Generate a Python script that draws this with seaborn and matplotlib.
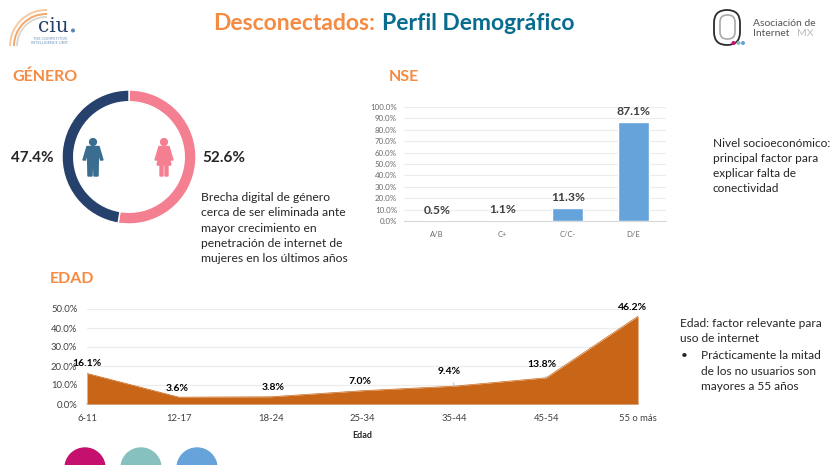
import matplotlib
matplotlib.use('Agg')
import matplotlib.pyplot as plt
from matplotlib.patches import Arc, Circle, FancyBboxPatch, Polygon
import pandas as pd
import seaborn as sns

sns.set_theme(style="white")
plt.rcParams['font.family'] = ['Lato', 'DejaVu Sans']

W, H = 833, 465

# Data
gender_labels = ['Mujeres', 'Hombres']
gender_share = [52.6, 47.4]

nse_levels = ['A/B', 'C+', 'C/C-', 'D/E']
nse_share = [0.5, 1.1, 11.3, 87.1]

age_groups = ['6-11', '12-17', '18-24', '25-34', '35-44', '45-54', '55 o más']
age_share = [16.1, 3.6, 3.8, 7.0, 9.4, 13.8, 46.2]

ORANGE = '#f58a42'
TEAL = '#086c8e'
NAVY = '#27416d'
PINK = '#f47f91'
BLUE = '#66a3da'
RUST = '#c96516'
DARK = '#262626'
GRID = '#ececec'


def px_axes(fig, left, top, right, bottom):
    # axes from slide pixel coordinates
    return fig.add_axes([left / W, 1 - bottom / H, (right - left) / W, (bottom - top) / H])


fig = plt.figure(figsize=(W / 100, H / 100), dpi=100)

# background layer in pixel coordinates, for text and logos
bg = fig.add_axes([0, 0, 1, 1])
bg.set_xlim(0, W)
bg.set_ylim(H, 0)
bg.axis('off')

# Title
bg.text(213, 24, 'Desconectados:', color=ORANGE, fontsize=16.5, fontweight='bold', va='center')
bg.text(382, 24, 'Perfil Demográfico', color=TEAL, fontsize=16.5, fontweight='bold', va='center')

# Section headers
bg.text(12, 77, 'GÉNERO', color=ORANGE, fontsize=11.5, fontweight='bold', va='center')
bg.text(389, 77, 'NSE', color=ORANGE, fontsize=11.5, fontweight='bold', va='center')
bg.text(50, 279, 'EDAD', color=ORANGE, fontsize=11.5, fontweight='bold', va='center')

# CIU logo
for d, c in [(72, '#f8c9a0'), (64, '#f4a76a'), (58, '#dcd8d2')]:
    bg.add_patch(Arc((46, 46), d, d, theta1=180, theta2=272, color=c, lw=1.4))
bg.text(38, 32, 'ciu', color=NAVY, fontsize=14.5, family='DejaVu Serif', va='baseline')
bg.add_patch(Circle((73, 30.5), 1.3, color='#5b86b5'))
bg.text(50, 41, 'THE COMPETITIVE\nINTELLIGENCE UNIT', color='#6f94bb', fontsize=2.8, ha='center', va='center')

# Asociacion de Internet logo
bg.add_patch(FancyBboxPatch((714, 10), 26, 35, boxstyle='round,pad=0,rounding_size=13', fill=False, ec='#2b2b2b', lw=1.3))
bg.add_patch(FancyBboxPatch((720, 15), 15, 24, boxstyle='round,pad=0,rounding_size=7', fill=False, ec='#a9a9a9', lw=1.2))
for x, c in [(733.5, '#c5106e'), (738.5, '#86c1bf'), (743, '#66a3da')]:
    bg.add_patch(Circle((x, 43), 1.3, color=c))
bg.text(753, 23, 'Asociación de', color='#555555', fontsize=7.5, va='center')
bg.text(753, 33.5, 'Internet', color='#555555', fontsize=7.5, va='center')
bg.text(797, 33.5, 'MX', color='#bbbbbb', fontsize=7.5, va='center')

# Person icons
bg.add_patch(Circle((93, 142), 3.4, color='#3a6d90'))
bg.add_patch(Polygon([(87, 146.5), (99, 146.5), (103, 160), (100.5, 160), (98.5, 152), (98, 176), (94, 176),
                      (93.5, 162), (92.5, 162), (92, 176), (88, 176), (87.5, 152), (85.5, 160), (83, 160)],
                     color='#3a6d90'))
bg.add_patch(Circle((164, 142), 3.4, color=PINK))
bg.add_patch(Polygon([(159, 146.5), (169, 146.5), (173, 160), (170.5, 160), (168, 153), (171, 165), (168, 165),
                      (168, 176), (165, 176), (165, 165), (163, 165), (163, 176), (160, 176), (160, 165),
                      (157, 165), (160, 153), (157.5, 160), (155, 160)], color=PINK))

# Gender numbers and notes
bg.text(11, 158, '47.4%', color=DARK, fontsize=11, fontweight='bold', va='center')
bg.text(202, 158, '52.6%', color=DARK, fontsize=11, fontweight='bold', va='center')
bg.text(201, 228, 'Brecha digital de género\ncerca de ser eliminada ante\nmayor crecimiento en\n'
        'penetración de internet de\nmujeres en los últimos años',
        color=DARK, fontsize=8.7, va='center', linespacing=1.45)
bg.text(713, 166, 'Nivel socioeconómico:\nprincipal factor para\nexplicar falta de\nconectividad',
        color=DARK, fontsize=8.6, va='center', linespacing=1.45)
bg.text(680, 331, 'Edad: factor relevante para\nuso de internet', color=DARK, fontsize=8.6, va='center', linespacing=1.45)
bg.text(681, 355, '•', color=DARK, fontsize=8.6, va='center')
bg.text(701, 371, 'Prácticamente la mitad\nde los no usuarios son\nmayores a 55 años',
        color=DARK, fontsize=8.6, va='center', linespacing=1.45)

# Bottom circles, cut by the slide edge
for x, c in [(85, '#c5106e'), (141, '#86c1bf'), (197, '#66a3da')]:
    bg.add_patch(Circle((x, 468), 20, color=c))

# Donut
ax_donut = px_axes(fig, 62, 90, 196, 224)
ax_donut.pie(gender_share, colors=[PINK, NAVY], startangle=90, counterclock=False, radius=1.0,
             wedgeprops={'width': 0.175, 'edgecolor': 'white', 'linewidth': 1.0})
ax_donut.set_xlim(-1, 1)
ax_donut.set_ylim(-1, 1)

# NSE bars
ax_nse = px_axes(fig, 404, 107, 666, 221)
nse_df = pd.DataFrame({'nse': nse_levels, 'share': nse_share})
sns.barplot(data=nse_df, x='nse', y='share', color=BLUE, saturation=1, width=0.48, ax=ax_nse, zorder=3)
ax_nse.set_ylim(0, 100)
ax_nse.set_yticks(range(0, 101, 10))
ax_nse.set_yticklabels([f'{v}.0%' for v in range(0, 101, 10)])
ax_nse.set_xlabel('')
ax_nse.set_ylabel('')
ax_nse.grid(axis='y', color=GRID, lw=0.8, zorder=0)
ax_nse.set_axisbelow(True)
ax_nse.tick_params(axis='both', length=0, labelsize=5.7, labelcolor='#6a6a6a')
ax_nse.tick_params(axis='x', pad=7, labelsize=5.5)
ax_nse.tick_params(axis='y', pad=5)
sns.despine(ax=ax_nse, left=True, top=True, right=True)
ax_nse.spines['bottom'].set_color('#d9d9d9')
ax_nse.spines['bottom'].set_linewidth(0.8)
ax_nse.bar_label(ax_nse.containers[0], labels=[f'{v:.1f}%' for v in nse_share], padding=3.5,
                 fontsize=8.7, fontweight='bold', color='#404040', clip_on=False)

# Age area
ax_age = px_axes(fig, 87, 309, 638, 404)
age_df = pd.DataFrame({'edad': age_groups, 'share': age_share})
sns.lineplot(data=age_df, x='edad', y='share', color=RUST, lw=0.5, ax=ax_age)
ax_age.fill_between(age_groups, age_share, 0, color=RUST, lw=0, zorder=3)
ax_age.set_xlim(0, len(age_groups) - 1)
ax_age.set_ylim(0, 50)
ax_age.set_yticks(range(0, 51, 10))
ax_age.set_yticklabels([f'{v}.0%' for v in range(0, 51, 10)])
ax_age.set_ylabel('')
ax_age.set_xlabel('Edad', fontsize=6.5, fontweight='bold', color=DARK, labelpad=6)
ax_age.grid(axis='y', color=GRID, lw=0.9)
ax_age.set_axisbelow(True)
ax_age.tick_params(axis='both', length=0, labelsize=6.8, labelcolor='#404040')
ax_age.tick_params(axis='x', pad=7)
ax_age.tick_params(axis='y', pad=7)
sns.despine(ax=ax_age, left=True, top=True, right=True)
ax_age.spines['bottom'].set_color('#d9d9d9')

# label offsets in points, two of them carry a leader line
label_offsets = [(0, 7), (-1, 6.5), (1.5, 7), (-2, 6.3), (-4, 10.8), (-3, 9.4), (-4.3, 6.5)]
has_leader = [False, False, False, False, True, True, False]
for name, v, off, leader in zip(age_groups, age_share, label_offsets, has_leader):
    arrow = {'arrowstyle': '-', 'color': '#b5b5b5', 'lw': 0.6, 'shrinkA': 3, 'shrinkB': 0} if leader else None
    ax_age.annotate(f'{v:.1f}%', (name, v), xytext=off, textcoords='offset points', ha='center', va='center',
                    fontsize=7.5, fontweight='bold', color='black', annotation_clip=False, arrowprops=arrow, zorder=5)

fig.savefig('out.png', dpi=100, facecolor='white')
